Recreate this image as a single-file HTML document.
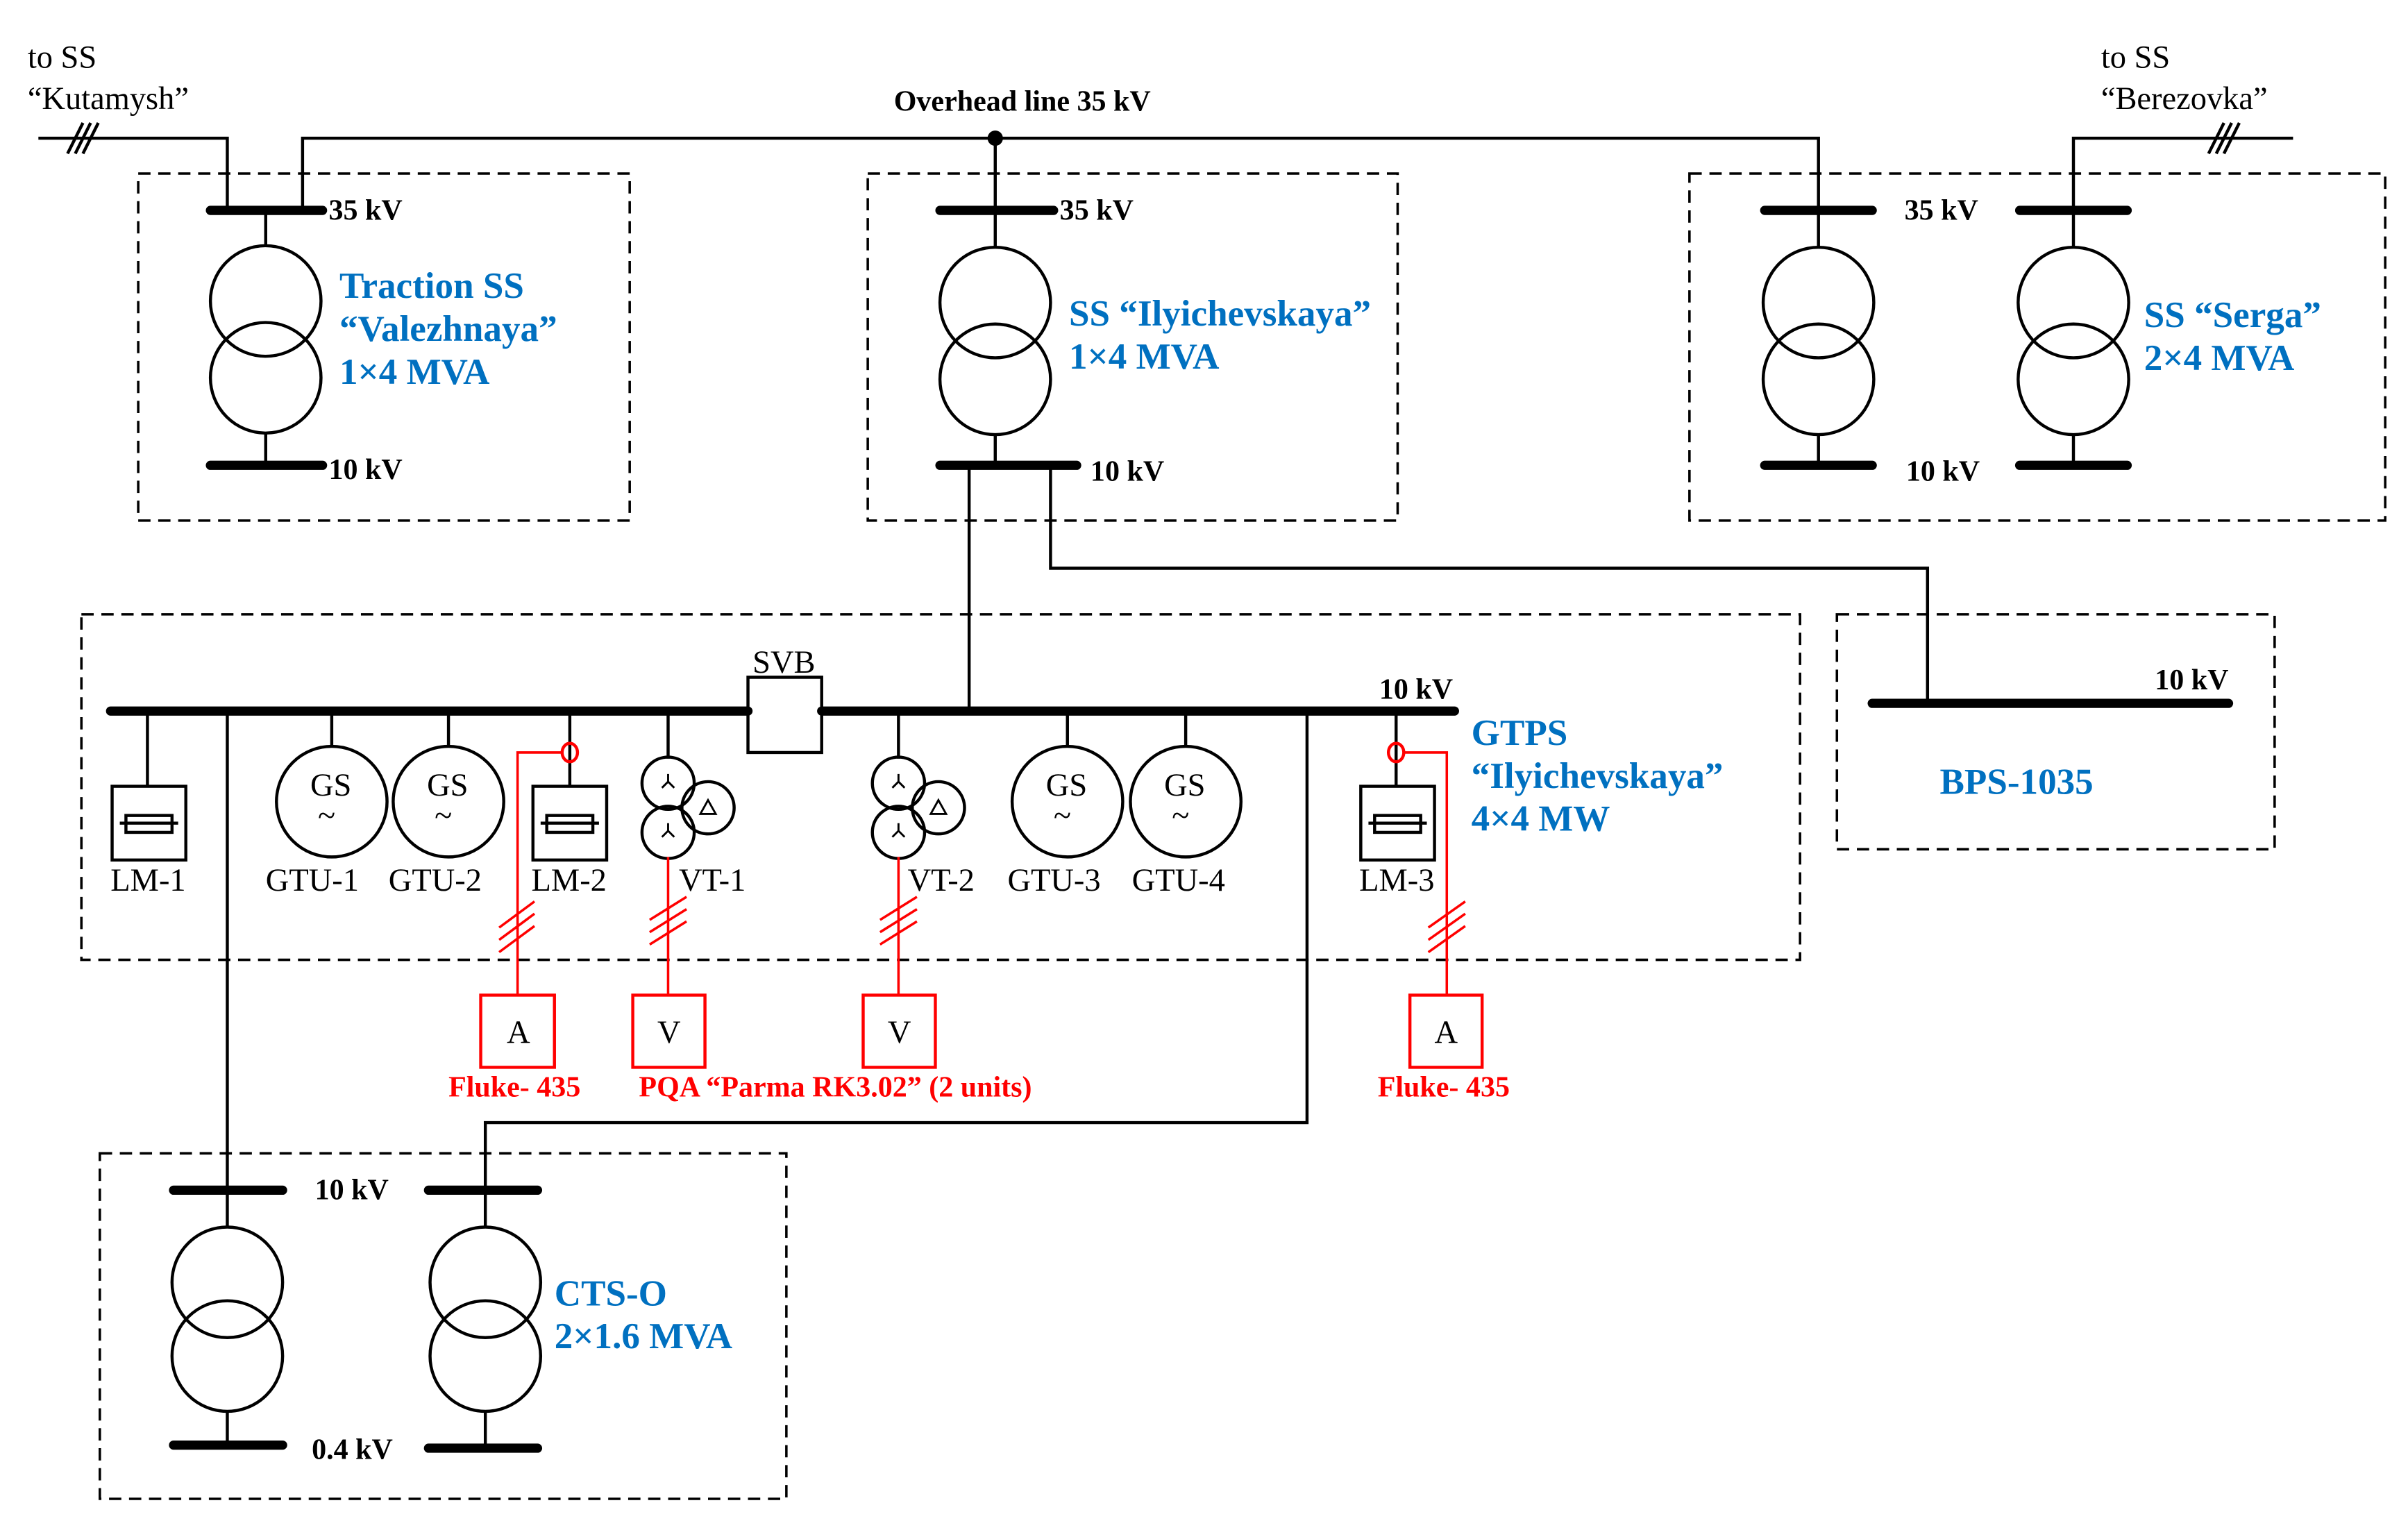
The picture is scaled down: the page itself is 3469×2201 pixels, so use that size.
<!DOCTYPE html>
<html><head><meta charset="utf-8"><style>html,body{margin:0;padding:0;background:#fff}svg{display:block}</style></head>
<body>
<svg width="3469" height="2201" viewBox="0 0 1560 990" preserveAspectRatio="none" xmlns="http://www.w3.org/2000/svg" font-family="Liberation Serif, serif">
<g transform="scale(0.995)">
<g fill="none" stroke="#000" stroke-width="2">
<g stroke-dasharray="8,5" stroke-width="1.6">
<rect x="90" y="113" width="320" height="226"/>
<rect x="565" y="113" width="345" height="226"/>
<rect x="1100" y="113" width="453" height="226"/>
<rect x="53" y="400" width="1119" height="225"/>
<rect x="1196" y="400" width="285" height="153"/>
<rect x="65" y="751" width="447" height="225"/>
</g>
<polyline points="25,90 148,90 148,137"/>
<polyline points="197,137 197,90 1184,90 1184,137"/>
<polyline points="1493,90 1350,90 1350,137"/>
<line x1="648" y1="90" x2="648" y2="137"/>
<line x1="44" y1="100" x2="54" y2="80"/><line x1="49" y1="100" x2="59" y2="80"/><line x1="54" y1="100" x2="64" y2="80"/>
<line x1="1438" y1="100" x2="1448" y2="80"/><line x1="1443" y1="100" x2="1453" y2="80"/><line x1="1448" y1="100" x2="1458" y2="80"/>
<line x1="173" y1="137" x2="173" y2="160"/><circle cx="173" cy="196" r="36"/><circle cx="173" cy="246" r="36"/><line x1="173" y1="282" x2="173" y2="303"/>
<line x1="648" y1="137" x2="648" y2="161"/><circle cx="648" cy="197" r="36"/><circle cx="648" cy="247" r="36"/><line x1="648" y1="283" x2="648" y2="303"/>
<line x1="1184" y1="137" x2="1184" y2="161"/><circle cx="1184" cy="197" r="36"/><circle cx="1184" cy="247" r="36"/><line x1="1184" y1="283" x2="1184" y2="303"/>
<line x1="1350" y1="137" x2="1350" y2="161"/><circle cx="1350" cy="197" r="36"/><circle cx="1350" cy="247" r="36"/><line x1="1350" y1="283" x2="1350" y2="303"/>
<line x1="631" y1="303" x2="631" y2="463"/>
<polyline points="684,303 684,370 1255,370 1255,458"/>
<line x1="148" y1="463" x2="148" y2="775"/>
<polyline points="851,463 851,731 316,731 316,775"/>
<line x1="96" y1="463" x2="96" y2="512"/>
<line x1="216" y1="463" x2="216" y2="486"/><circle cx="216" cy="522" r="36"/>
<line x1="292" y1="463" x2="292" y2="486"/><circle cx="292" cy="522" r="36"/>
<line x1="371" y1="463" x2="371" y2="512"/>
<line x1="435" y1="463" x2="435" y2="494"/>
<line x1="585" y1="463" x2="585" y2="494"/>
<line x1="695" y1="463" x2="695" y2="486"/><circle cx="695" cy="522" r="36"/>
<line x1="772" y1="463" x2="772" y2="486"/><circle cx="772" cy="522" r="36"/>
<line x1="909" y1="463" x2="909" y2="512"/>
<rect x="487" y="441" width="48" height="49" fill="#fff"/>
<rect x="73" y="512" width="48" height="48"/><rect x="82" y="531" width="30" height="11"/><line x1="78" y1="536" x2="116" y2="536"/>
<rect x="347" y="512" width="48" height="48"/><rect x="356" y="531" width="30" height="11"/><line x1="352" y1="536" x2="390" y2="536"/>
<rect x="886" y="512" width="48" height="48"/><rect x="895" y="531" width="30" height="11"/><line x1="891" y1="536" x2="929" y2="536"/>
<circle cx="435" cy="510" r="17"/><circle cx="435" cy="542" r="17"/><circle cx="461" cy="526" r="17"/>
<circle cx="585" cy="510" r="17"/><circle cx="585" cy="542" r="17"/><circle cx="611" cy="526" r="17"/>
<g stroke-width="1.3">
<path d="M435,504 v5 M431,513 L435,509 L439,513"/><path d="M435,536 v5 M431,545 L435,541 L439,545"/>
<path d="M585,504 v5 M581,513 L585,509 L589,513"/><path d="M585,536 v5 M581,545 L585,541 L589,545"/>
<path d="M461,521 L466,530 L456,530 Z"/><path d="M611,521 L616,530 L606,530 Z"/>
</g>
<circle cx="148" cy="835" r="36"/><circle cx="148" cy="883" r="36"/><line x1="148" y1="919" x2="148" y2="941"/>
<line x1="316" y1="775" x2="316" y2="799"/><circle cx="316" cy="835" r="36"/><circle cx="316" cy="883" r="36"/><line x1="316" y1="919" x2="316" y2="943"/>
<line x1="148" y1="775" x2="148" y2="799"/>
</g>
<g stroke="#000" stroke-width="6" stroke-linecap="round">
<line x1="137" y1="137" x2="210" y2="137"/><line x1="137" y1="303" x2="210" y2="303"/>
<line x1="612" y1="137" x2="686" y2="137"/><line x1="612" y1="303" x2="701" y2="303"/>
<line x1="1149" y1="137" x2="1219" y2="137"/><line x1="1149" y1="303" x2="1219" y2="303"/>
<line x1="1315" y1="137" x2="1385" y2="137"/><line x1="1315" y1="303" x2="1385" y2="303"/>
<line x1="72" y1="463" x2="487" y2="463"/><line x1="535" y1="463" x2="947" y2="463"/>
<line x1="1219" y1="458" x2="1451" y2="458"/>
<line x1="113" y1="775" x2="184" y2="775"/><line x1="279" y1="775" x2="350" y2="775"/>
<line x1="113" y1="941" x2="184" y2="941"/><line x1="279" y1="943" x2="350" y2="943"/>
</g>
<circle cx="648" cy="90" r="5" fill="#000"/>
<g fill="none" stroke="#f00" stroke-width="1.6">
<ellipse cx="371" cy="490" rx="5" ry="6" stroke-width="2"/><polyline points="366,490 337,490 337,648"/>
<ellipse cx="909" cy="490" rx="5" ry="6" stroke-width="2"/><polyline points="914,490 942,490 942,648"/>
<line x1="435" y1="558" x2="435" y2="648"/><line x1="585" y1="558" x2="585" y2="648"/>
<g stroke-width="2">
<rect x="313" y="648" width="48" height="47"/><rect x="412" y="648" width="47" height="47"/><rect x="562" y="648" width="47" height="47"/><rect x="918" y="648" width="47" height="47"/>
</g>
<path d="M325,604 L348,587 M325,612 L348,595 M325,620 L348,603"/>
<path d="M423,599 L447,584 M423,607 L447,592 M423,615 L447,600"/>
<path d="M573,599 L597,584 M573,607 L597,592 M573,615 L597,600"/>
<path d="M930,604 L954,587 M930,612 L954,595 M930,620 L954,603"/>
</g>
<g font-size="21" fill="#000">
<text x="18" y="44">to SS</text><text x="18" y="71">“Kutamysh”</text>
<text x="1368" y="44">to SS</text><text x="1368" y="71">“Berezovka”</text>
<text x="490" y="438">SVB</text>
<text x="72" y="580">LM-1</text><text x="173" y="580">GTU-1</text><text x="253" y="580">GTU-2</text><text x="346" y="580">LM-2</text>
<text x="442" y="580">VT-1</text><text x="591" y="580">VT-2</text><text x="656" y="580">GTU-3</text><text x="737" y="580">GTU-4</text><text x="885" y="580">LM-3</text>
<text x="202" y="518">GS</text><text x="278" y="518">GS</text><text x="681" y="518">GS</text><text x="758" y="518">GS</text>
<text x="207" y="538">~</text><text x="283" y="538">~</text><text x="686" y="538">~</text><text x="763" y="538">~</text>
<text x="330" y="679">A</text><text x="428" y="679">V</text><text x="578" y="679">V</text><text x="934" y="679">A</text>
</g>
<g font-size="19" font-weight="bold" fill="#000">
<text x="582" y="72">Overhead line 35 kV</text>
<text x="214" y="143">35 kV</text><text x="214" y="312">10 kV</text>
<text x="690" y="143">35 kV</text><text x="710" y="313">10 kV</text>
<text x="1240" y="143">35 kV</text><text x="1241" y="313">10 kV</text>
<text x="898" y="455">10 kV</text><text x="1403" y="449">10 kV</text>
<text x="205" y="781">10 kV</text><text x="203" y="950">0.4 kV</text>
</g>
<g font-size="24" font-weight="bold" fill="#0070c0">
<text x="221" y="194">Traction SS</text><text x="221" y="222">“Valezhnaya”</text><text x="221" y="250">1×4 MVA</text>
<text x="696" y="212">SS “Ilyichevskaya”</text><text x="696" y="240">1×4 MVA</text>
<text x="1396" y="213">SS “Serga”</text><text x="1396" y="241">2×4 MVA</text>
<text x="958" y="485">GTPS</text><text x="958" y="513">“Ilyichevskaya”</text><text x="958" y="541">4×4 MW</text>
<text x="1263" y="517">BPS-1035</text>
<text x="361" y="850">CTS-O</text><text x="361" y="878">2×1.6 MVA</text>
</g>
<g font-size="19" font-weight="bold" fill="#f00">
<text x="292" y="714">Fluke- 435</text>
<text x="416" y="714">PQA “Parma RK3.02” (2 units)</text>
<text x="897" y="714">Fluke- 435</text>
</g>
</g>
</svg>
</body></html>
